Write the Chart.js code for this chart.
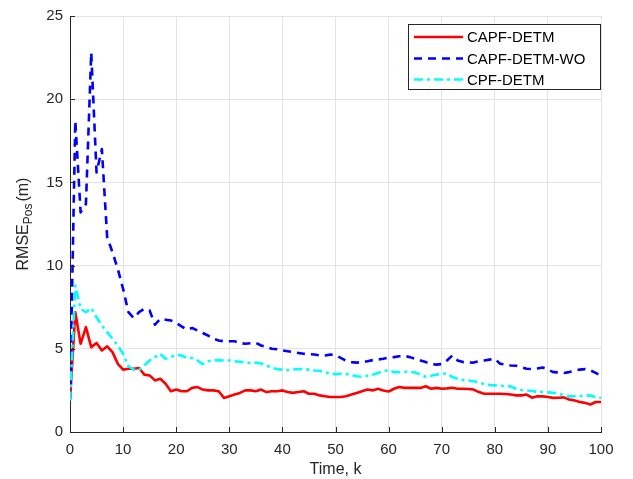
<!DOCTYPE html>
<html>
<head>
<meta charset="utf-8">
<script src="https://cdn.jsdelivr.net/npm/chart.js@4.4.1/dist/chart.umd.min.js"></script>
<style>
  html, body { margin: 0; padding: 0; background: #fff; }
</style>
</head>
<body>
<canvas id="rmse" width="633" height="479"></canvas>
<script>
// time steps k = 0..100
const timeK = [];
for (let k = 0; k <= 100; k++) timeK.push(k);

const capfDetm = [1.9, 7.2, 5.3, 6.3, 5.1, 5.35, 4.9, 5.15, 4.8, 4.1,
  3.75, 3.8, 3.8, 3.85, 3.45, 3.4, 3.1, 3.2, 2.9, 2.45,
  2.55, 2.45, 2.45, 2.65, 2.7, 2.55, 2.5, 2.5, 2.45, 2.05,
  2.15, 2.25, 2.35, 2.5, 2.5, 2.45, 2.55, 2.4, 2.45, 2.45,
  2.5, 2.4, 2.35, 2.4, 2.45, 2.3, 2.3, 2.2, 2.15, 2.1,
  2.1, 2.1, 2.15, 2.25, 2.35, 2.45, 2.55, 2.5, 2.6, 2.5,
  2.43, 2.6, 2.7, 2.65, 2.65, 2.65, 2.65, 2.75, 2.6, 2.65,
  2.6, 2.62, 2.66, 2.6, 2.6, 2.58, 2.55, 2.4, 2.3, 2.3,
  2.3, 2.3, 2.28, 2.25, 2.2, 2.2, 2.25, 2.06, 2.15, 2.14,
  2.1, 2.05, 2.06, 2.08, 1.95, 1.9, 1.8, 1.75, 1.65, 1.8,
  1.8];

const capfDetmWo = [2.0, 18.7, 13.2, 13.7, 22.8, 15.6, 17.0, 11.7, 10.8, 9.8,
  8.6, 7.2, 6.85, 7.2, 7.4, 7.3, 6.45, 6.8, 6.75, 6.7,
  6.55, 6.35, 6.15, 6.25, 6.1, 5.95, 5.8, 5.6, 5.5, 5.45,
  5.45, 5.45, 5.35, 5.3, 5.33, 5.36, 5.2, 5.1, 5.0, 4.97,
  4.9, 4.85, 4.8, 4.75, 4.7, 4.68, 4.66, 4.6, 4.6, 4.65,
  4.63, 4.45, 4.28, 4.2, 4.17, 4.2, 4.25, 4.32, 4.36, 4.4,
  4.47, 4.5, 4.55, 4.57, 4.5, 4.4, 4.3, 4.2, 4.08, 4.05,
  4.08, 4.3, 4.6, 4.3, 4.2, 4.18, 4.17, 4.25, 4.3, 4.35,
  4.4, 4.1, 4.05, 4.0, 3.98, 3.9, 3.8, 3.78, 3.82, 3.88,
  3.75, 3.6, 3.58, 3.55, 3.6, 3.68, 3.75, 3.78, 3.7, 3.55,
  3.38];

const cpfDetm = [1.9, 8.8, 7.4, 7.2, 7.45, 6.9, 6.4, 6.0, 5.6, 5.2,
  4.7, 3.95, 3.75, 3.72, 4.0, 4.3, 4.5, 4.7, 4.4, 4.5,
  4.65, 4.6, 4.45, 4.45, 4.3, 4.08, 4.25, 4.3, 4.32, 4.3,
  4.3, 4.25, 4.22, 4.18, 4.15, 4.17, 4.12, 4.0, 3.85, 3.78,
  3.75, 3.72, 3.75, 3.78, 3.78, 3.75, 3.7, 3.68, 3.6, 3.5,
  3.48, 3.5, 3.48, 3.42, 3.35, 3.32, 3.38, 3.44, 3.55, 3.65,
  3.72, 3.6, 3.6, 3.62, 3.62, 3.58, 3.45, 3.32, 3.38, 3.45,
  3.5, 3.52, 3.3, 3.2, 3.12, 3.1, 3.05, 2.98, 2.88, 2.82,
  2.8, 2.78, 2.76, 2.74, 2.6, 2.52, 2.5, 2.46, 2.42, 2.4,
  2.38, 2.35, 2.32, 2.2, 2.14, 2.15, 2.16, 2.18, 2.2, 2.1,
  2.04];

const seriesNames = ['CAPF-DETM', 'CAPF-DETM-WO', 'CPF-DETM'];
const xTicks = [0, 10, 20, 30, 40, 50, 60, 70, 80, 90, 100];
const yTicks = [0, 5, 10, 15, 20, 25];

const axisColor = '#262626';
const fontFam = 'Liberation Sans, Arial, sans-serif';

function pts(ys) {
  return ys.map((v, i) => ({ x: timeK[i], y: v }));
}

// inward tick marks, legend box and axis titles (MATLAB look)
const matlabAxes = {
  id: 'matlabAxes',
  afterDatasetsDraw(chart) {
    const ctx = chart.ctx;
    const a = chart.chartArea;
    const xs = chart.scales.x, ys = chart.scales.y;
    ctx.save();
    ctx.strokeStyle = axisColor;
    ctx.lineWidth = 1;
    ctx.beginPath();
    xTicks.forEach(t => {
      const px = Math.round(xs.getPixelForValue(t)) + 0.5;
      ctx.moveTo(px, a.bottom);
      ctx.lineTo(px, a.bottom - 5);
    });
    yTicks.forEach(t => {
      const py = Math.round(ys.getPixelForValue(t)) + 0.5;
      ctx.moveTo(a.left, py);
      ctx.lineTo(a.left + 5, py);
    });
    ctx.stroke();
    ctx.restore();
  },
  afterDraw(chart) {
    const ctx = chart.ctx;
    const a = chart.chartArea;
    ctx.save();

    // legend
    const bx = 408.5, by = 24.5, bw = 192, bh = 65;
    ctx.fillStyle = '#fff';
    ctx.fillRect(bx, by, bw, bh);
    ctx.strokeStyle = axisColor;
    ctx.lineWidth = 1;
    ctx.strokeRect(bx, by, bw, bh);
    const rows = [37, 58.5, 79.5];
    chart.data.datasets.forEach((ds, i) => {
      ctx.beginPath();
      ctx.strokeStyle = ds.borderColor;
      ctx.lineWidth = ds.borderWidth;
      ctx.setLineDash(ds.borderDash || []);
      ctx.moveTo(414, rows[i]);
      ctx.lineTo(463, rows[i]);
      ctx.stroke();
      ctx.setLineDash([]);
      ctx.fillStyle = '#000';
      ctx.font = '15px ' + fontFam;
      ctx.textBaseline = 'middle';
      ctx.textAlign = 'left';
      ctx.fillText(ds.label, 467, rows[i] + 1);
    });

    // x title
    ctx.fillStyle = axisColor;
    ctx.font = '16px ' + fontFam;
    ctx.textAlign = 'center';
    ctx.textBaseline = 'middle';
    ctx.fillText('Time, k', (a.left + a.right) / 2, 470);

    // y title with subscript
    ctx.translate(22, (a.top + a.bottom) / 2);
    ctx.rotate(-Math.PI / 2);
    ctx.textAlign = 'left';
    ctx.textBaseline = 'alphabetic';
    const mainF = '16px ' + fontFam, subF = '12px ' + fontFam;
    ctx.font = mainF; const w1 = ctx.measureText('RMSE').width;
    ctx.font = subF;  const w2 = ctx.measureText('Pos').width;
    ctx.font = mainF; const w3 = ctx.measureText('(m)').width;
    const gap = 2;
    let x0 = -(w1 + w2 + gap + w3) / 2;
    ctx.font = mainF; ctx.fillText('RMSE', x0, 6);
    ctx.font = subF;  ctx.fillText('Pos', x0 + w1, 10);
    ctx.font = mainF; ctx.fillText('(m)', x0 + w1 + w2 + gap, 6);
    ctx.restore();
  }
};

new Chart(document.getElementById('rmse'), {
  type: 'line',
  data: {
    datasets: [{
      label: seriesNames[0],
      data: pts(capfDetm),
      borderColor: '#ff0000',
      borderWidth: 2.6,
      order: 3
    }, {
      label: seriesNames[1],
      data: pts(capfDetmWo),
      borderColor: '#0000ff',
      borderWidth: 2.6,
      borderDash: [8, 6],
      order: 2
    }, {
      label: seriesNames[2],
      data: pts(cpfDetm),
      borderColor: '#00ffff',
      borderWidth: 2.6,
      borderDash: [9, 4, 3, 4],
      order: 1
    }]
  },
  options: {
    responsive: false,
    animation: false,
    devicePixelRatio: 1,
    layout: { padding: { top: 11, right: 32, left: 0, bottom: 0 } },
    elements: {
      point: { radius: 0 },
      line: { tension: 0, fill: false, borderJoinStyle: 'round' }
    },
    plugins: {
      legend: { display: false },
      tooltip: { enabled: false }
    },
    scales: {
      x: {
        type: 'linear',
        min: 0,
        max: 100,
        afterBuildTicks: s => { s.ticks = xTicks.map(v => ({ value: v })); },
        afterFit: s => { s.height = 47; },
        grid: { color: '#e3e3e3', drawTicks: false },
        border: { color: axisColor, width: 1 },
        ticks: { color: axisColor, padding: 9, maxRotation: 0, font: { size: 15, family: fontFam } }
      },
      y: {
        min: 0,
        max: 25,
        afterBuildTicks: s => { s.ticks = yTicks.map(v => ({ value: v })); },
        afterFit: s => { s.width = 70; },
        grid: { color: '#e3e3e3', drawTicks: false },
        border: { color: axisColor, width: 1 },
        ticks: { color: axisColor, padding: 7, font: { size: 15, family: fontFam } }
      }
    }
  },
  plugins: [matlabAxes]
});
</script>
</body>
</html>
